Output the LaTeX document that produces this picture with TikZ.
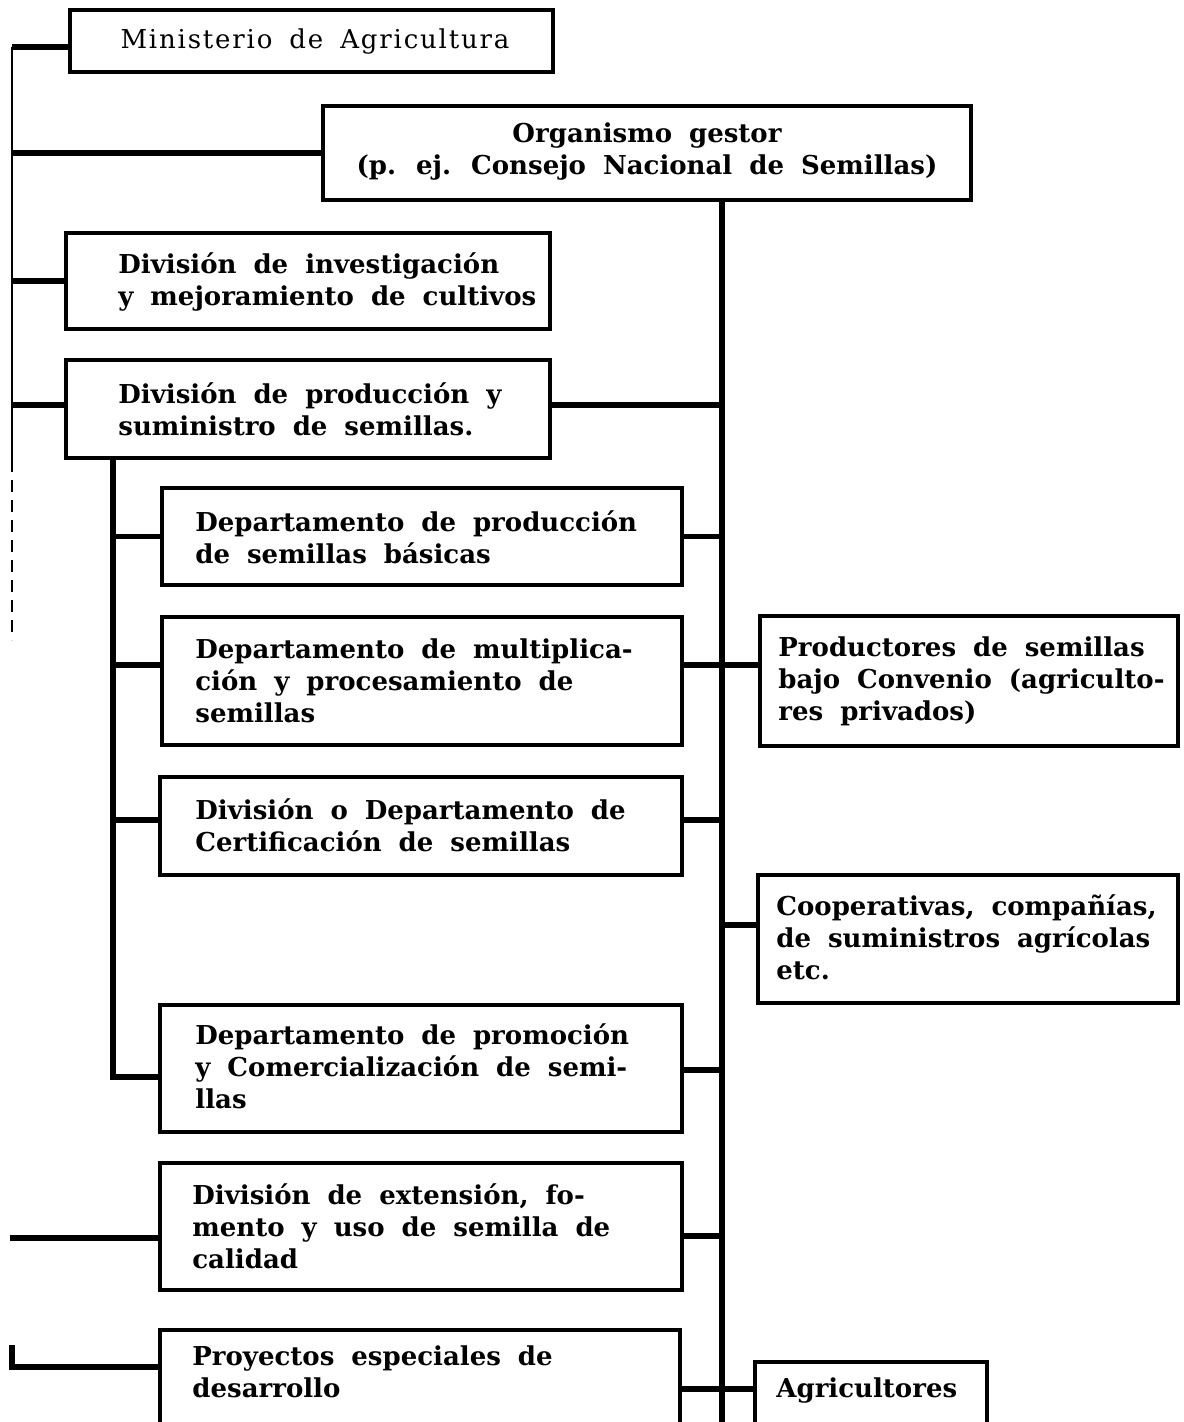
\documentclass[tikz,border=0pt]{standalone}
\usepackage{fontspec}
\setmainfont{DejaVu Serif}
\newcommand\wsp{\spaceskip=8.5pt plus 1pt minus 1pt\relax}
\newcommand\bodyfont{\fontsize{13}{16}\selectfont\wsp}
\begin{document}
\begin{tikzpicture}[x=0.5pt,y=-0.5pt,
  box/.style={draw, rectangle, line width=1.6pt, inner sep=0pt},
  txt/.style={font=\bfseries\bodyfont, align=left, inner sep=0pt, anchor=west},
  ctxt/.style={font=\bfseries\bodyfont, align=center, inner sep=0pt},
  link/.style={line width=2.6pt},
  spine/.style={line width=1.2pt},
  faded/.style={line width=0.8pt, dash pattern=on 6pt off 4pt}]
\useasboundingbox (0,0) rectangle (1183,1422);
\clip (0,0) rectangle (1183,1422);
% boxes
\node[box, minimum width=241.5pt, minimum height=31pt] (mini) at (311.5,41) {};
\node[box, minimum width=324pt, minimum height=47pt] (org) at (647,153) {};
\node[box, minimum width=242pt, minimum height=48pt] (inv) at (308,281) {};
\node[box, minimum width=242pt, minimum height=49pt] (prod) at (308,409) {};
\node[box, minimum width=260pt, minimum height=48.5pt] (bas) at (422,536.5) {};
\node[box, minimum width=260pt, minimum height=64pt] (mul) at (422,681) {};
\node[box, minimum width=261pt, minimum height=49pt] (cer) at (421,826) {};
\node[box, minimum width=261pt, minimum height=63.5pt] (pro) at (421,1068.5) {};
\node[box, minimum width=261pt, minimum height=63.5pt] (ext) at (421,1226.5) {};
\node[box, minimum width=260pt, minimum height=65pt] (proy) at (420,1395) {};
\node[box, minimum width=209pt, minimum height=65pt] (prodr) at (969,681) {};
\node[box, minimum width=210pt, minimum height=64pt] (coop) at (968,939) {};
\node[box, minimum width=116pt, minimum height=54pt] (agr) at (871,1416) {};
% texts
\node[ctxt, font=\bodyfont\addfontfeatures{LetterSpace=7}] (miniT) at (315,42) {Ministerio de Agricultura};
\node[ctxt] (orgT) at (647,152) {Organismo gestor\\(p. ej. Consejo Nacional de Semillas)};
\node[txt] (invT) at (118,282) {División de investigación\\y mejoramiento de cultivos};
\node[txt] (prodT) at (118,409) {División de producción y\\suministro de semillas.};
\node[txt] (basT) at (195,537) {Departamento de producción\\de semillas básicas};
\node[txt] (mulT) at (195,681) {Departamento de multiplica-\\ción y procesamiento de\\semillas};
\node[txt] (cerT) at (195,825) {División o Departamento de\\Certificación de semillas};
\node[txt] (proT) at (195,1066) {Departamento de promoción\\y Comercialización de semi-\\llas};
\node[txt] (extT) at (192,1226) {División de extensión, fo-\\mento y uso de semilla de\\calidad};
\node[txt] (proyT) at (192,1372) {Proyectos especiales de\\desarrollo};
\node[txt] (prodrT) at (778,681) {Productores de semillas\\bajo Convenio (agriculto-\\res privados)};
\node[txt] (coopT) at (776,937) {Cooperativas, compañías,\\de suministros agrícolas\\etc.};
\node[txt] (agrT) at (776,1390) {Agricultores};
% left spine
\coordinate (sp0) at (12,47);
\coordinate (sp1) at (12,460);
\coordinate (sp2) at (12,640);
\draw[spine] (sp0) -- (sp1);
\draw[faded] (sp1) -- (sp2);
\draw[link] (sp0) -- (sp0 -| mini.west);
\draw[link] (sp0 |- org.west) -- (org.west);
\draw[link] (sp0 |- inv.west) -- (inv.west);
\draw[link] (sp0 |- 0,405) -- (prod.west |- 0,405);
\coordinate (ex0) at (10,1238);
\draw[link] (ex0) -- (ext.west |- ex0);
\coordinate (py0) at (12,1345);
\draw[link] (py0) |- (proy.west |- 0,1367);
% sub spine
\coordinate (ss0) at (113,458);
\draw[link] (ss0) |- (pro.west |- 0,1077);
\draw[link] (ss0 |- bas.west) -- (bas.west);
\draw[link] (ss0 |- 0,665) -- (mul.west |- 0,665);
\draw[link] (ss0 |- 0,820) -- (cer.west |- 0,820);
% trunk
\coordinate (tk0) at (722,200);
\coordinate (tk1) at (722,1422);
\draw[link] (tk0) -- (tk1);
\draw[link] (prod.east |- 0,405) -- (tk0 |- 0,405);
\draw[link] (bas.east) -- (tk0 |- bas.east);
\draw[link] (mul.east |- 0,665) -- (prodr.west |- 0,665);
\draw[link] (cer.east |- 0,820) -- (tk0 |- 0,820);
\draw[link] (tk0 |- 0,925) -- (coop.west |- 0,925);
\draw[link] (pro.east |- 0,1070) -- (tk0 |- 0,1070);
\draw[link] (ext.east |- 0,1236) -- (tk0 |- 0,1236);
\draw[link] (proy.east |- 0,1389) -- (agr.west |- 0,1389);
\end{tikzpicture}
\end{document}
